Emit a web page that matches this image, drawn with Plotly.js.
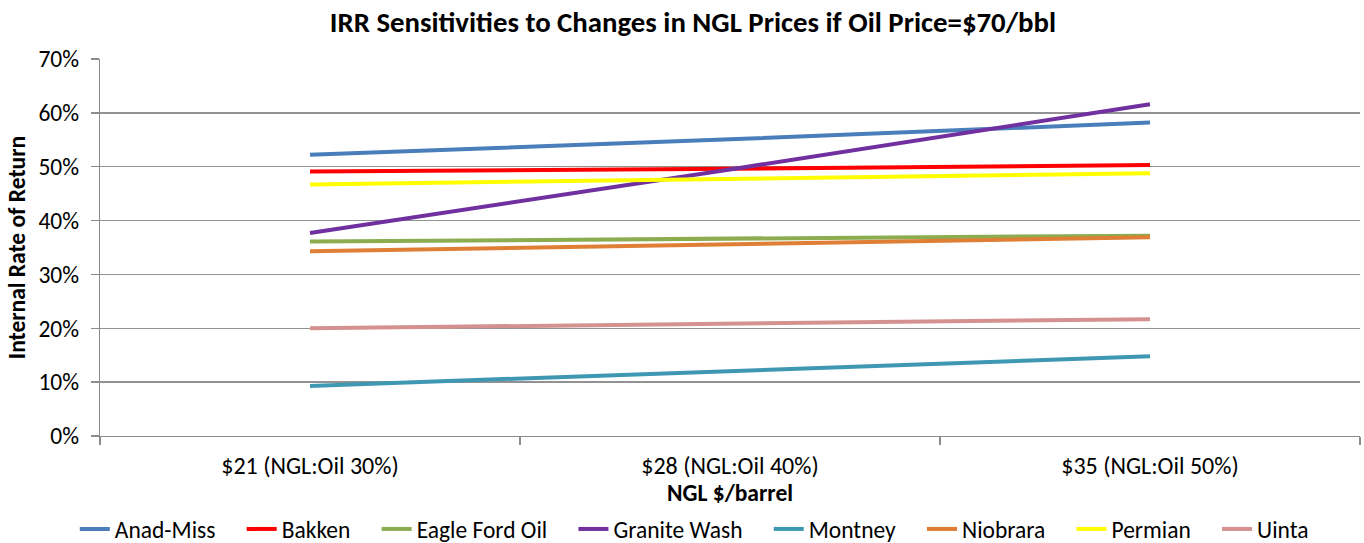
<!DOCTYPE html>
<html><head><meta charset="utf-8">
<script src="https://cdn.plot.ly/plotly-3.0.1.min.js"></script>
<style>body{margin:0;background:#fff}#c{width:1364px;height:543px}</style>
</head><body><div id="c"></div>
<script>
const categories = ["$21 (NGL:Oil 30%)", "$28 (NGL:Oil 40%)", "$35 (NGL:Oil 50%)"];
const seriesNames = ["Anad-Miss","Bakken","Eagle Ford Oil","Granite Wash","Montney","Niobrara","Permian","Uinta"];
const anadMiss    = [0.522, 0.551, 0.582];
const bakken      = [0.491, 0.496, 0.503];
const eagleFord   = [0.361, 0.366, 0.372];
const graniteWash = [0.377, 0.495, 0.616];
const montney     = [0.093, 0.121, 0.148];
const niobrara    = [0.343, 0.356, 0.369];
const permian     = [0.467, 0.477, 0.488];
const uinta       = [0.200, 0.209, 0.217];
const seriesValues = [anadMiss, bakken, eagleFord, graniteWash, montney, niobrara, permian, uinta];
const colors = ["#4A7EBB","#FF0000","#8CAC50","#7030A0","#3E98B1","#DF7F36","#FFFF00","#D49190"];

const font = "Carlito, Calibri, 'Liberation Sans Narrow', 'Liberation Sans', sans-serif";
const pad = '\u00a0\u00a0\u00a0\u00a0';
const traces = seriesNames.map((n,i)=>({
  type:'scatter', mode:'lines', name:n + pad, x:categories, y:seriesValues[i],
  line:{color:colors[i], width:4}, hoverinfo:'skip'
}));
const layout = {
  width:1364, height:543,
  margin:{l:100, r:4, t:59, b:107},
  paper_bgcolor:'#fff', plot_bgcolor:'#fff',
  font:{family:font, size:23.5, color:'#000'},
  title:{text:'<b>IRR Sensitivities to Changes in NGL Prices if Oil Price=$70/bbl</b>', x:0.508, xanchor:'center', y:0.96, yanchor:'middle', font:{family:font, size:28.8}},
  xaxis:{type:'category', range:[-0.5,2.5], showgrid:false, showline:true, linecolor:'#8C8C8C', linewidth:1.3, automargin:false,
    ticks:'outside', tickson:'boundaries', ticklen:8, tickcolor:'#8C8C8C', tickwidth:1.3, tickfont:{size:24}, ticklabelstandoff:8,
    title:{text:'<b>NGL $/barrel</b>', font:{size:23.5}, standoff:9}},
  yaxis:{range:[0,0.7], dtick:0.1, tickformat:'.0%', showgrid:true, gridcolor:'#929292', gridwidth:1.3, automargin:false,
    showline:true, linecolor:'#8C8C8C', linewidth:1.3, ticks:'outside', ticklen:8, tickcolor:'#8C8C8C', tickwidth:1.3, tickfont:{size:23.5}, ticklabelstandoff:7,
    zeroline:false, title:{text:'<b>Internal Rate of Return</b>', font:{size:23.5}, standoff:6}},
  legend:{orientation:'h', x:0.48, xanchor:'center', yref:'container', y:0.066, yanchor:'top', font:{size:23.5}, itemwidth:30, tracegroupgap:0},
  showlegend:true
};
Plotly.newPlot('c', traces, layout, {staticPlot:true});
</script></body></html>
